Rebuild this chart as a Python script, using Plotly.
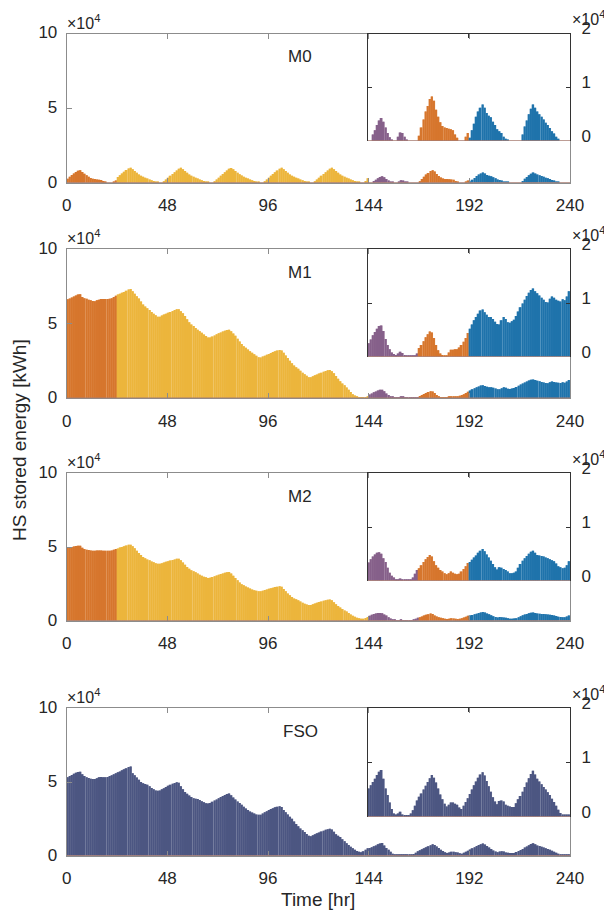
import plotly.graph_objects as go

# ---------------- data (values in units of 10^4 kWh) ----------------
hours = list(range(240))
x_tick_vals = [0, 48, 96, 144, 192, 240]
main_y_ticks = [0, 5, 10]
inset_y_ticks = [0, 1, 2]
panel_names = ["M0", "M1", "M2", "FSO"]

seg_start = [0, 24, 144, 168, 192]
seg_end = [24, 144, 168, 192, 240]
seg_colors = ["#D6762D", "#ECB53C", "#86608A", "#D6762D", "#1F73AB"]
seg_edge_colors = ["#E39A5E", "#F2C870", "#A98BA8", "#E39A5E", "#609DC8"]
fso_color = "#4C5682"
fso_edge_color = "#8087A8"

m0 = [0.27,0.4,0.52,0.62,0.72,0.8,0.83,0.72,0.6,0.5,0.4,0.32,0.27,0.24,0.22,0.2,0.18,0.12,0.05,0,0,0,0.03,0.15,
      0.38,0.5,0.62,0.74,0.85,0.96,1.0,0.9,0.78,0.66,0.55,0.47,0.4,0.34,0.28,0.22,0.17,0.12,0.07,0.03,0,0,0.1,0.22,
      0.34,0.46,0.58,0.7,0.82,0.94,1.0,0.9,0.78,0.66,0.55,0.47,0.4,0.34,0.28,0.22,0.17,0.12,0.07,0.03,0,0,0.1,0.22,
      0.34,0.46,0.58,0.7,0.82,0.94,0.99,0.9,0.78,0.66,0.56,0.48,0.4,0.34,0.28,0.22,0.17,0.12,0.07,0.03,0,0,0.1,0.22,
      0.34,0.46,0.58,0.7,0.82,0.94,1.0,0.9,0.78,0.66,0.55,0.47,0.4,0.34,0.28,0.22,0.17,0.12,0.07,0.03,0,0,0.1,0.22,
      0.34,0.46,0.58,0.7,0.82,0.94,1.0,0.9,0.78,0.66,0.55,0.47,0.4,0.34,0.28,0.22,0.17,0.12,0.07,0.03,0,0,0.12,0.3,
      0,0,0.12,0.2,0.3,0.38,0.43,0.36,0.25,0.15,0.07,0.02,0,0,0.08,0.16,0.15,0.08,0.03,0,0,0,0,0,
      0.1,0.25,0.4,0.55,0.65,0.78,0.83,0.75,0.58,0.45,0.35,0.28,0.25,0.24,0.23,0.22,0.2,0.12,0.06,0,0,0,0.08,0.15,
      0.06,0.2,0.32,0.45,0.55,0.62,0.68,0.62,0.52,0.47,0.44,0.36,0.3,0.22,0.18,0.15,0.08,0.04,0.02,0,0,0,0,0,
      0,0.12,0.27,0.38,0.5,0.6,0.68,0.62,0.55,0.5,0.45,0.4,0.34,0.3,0.24,0.18,0.14,0.08,0.04,0,0,0,0,0]

m1 = [6.64,6.7,6.77,6.84,6.9,6.96,6.98,6.8,6.72,6.68,6.62,6.58,6.53,6.52,6.58,6.62,6.66,6.67,6.67,6.67,6.68,6.72,6.8,6.88,
      6.96,7.02,7.08,7.14,7.22,7.3,7.33,7.18,7.02,6.85,6.7,6.5,6.3,6.16,6.05,5.92,5.8,5.68,5.58,5.48,5.48,5.55,5.62,5.68,
      5.74,5.8,5.86,5.92,5.97,5.98,5.85,5.7,5.52,5.3,5.1,4.95,4.85,4.72,4.6,4.5,4.4,4.28,4.18,4.08,4.08,4.15,4.22,4.3,
      4.36,4.42,4.48,4.53,4.58,4.6,4.5,4.35,4.2,4.0,3.82,3.65,3.5,3.4,3.28,3.15,3.05,2.95,2.85,2.76,2.74,2.8,2.86,2.92,
      2.98,3.04,3.1,3.15,3.2,3.24,3.2,3.05,2.88,2.7,2.52,2.35,2.2,2.08,1.98,1.85,1.72,1.62,1.52,1.42,1.42,1.48,1.54,1.6,
      1.66,1.72,1.78,1.83,1.88,1.9,1.82,1.68,1.5,1.32,1.15,1.0,0.88,0.72,0.58,0.42,0.28,0.18,0.1,0.05,0.05,0.05,0.06,0.1,
      0.25,0.32,0.4,0.46,0.52,0.57,0.58,0.48,0.33,0.22,0.14,0.08,0.05,0.03,0.06,0.09,0.07,0.03,0.01,0.01,0.01,0.01,0.02,0.06,
      0.16,0.22,0.29,0.36,0.42,0.47,0.45,0.35,0.22,0.12,0.06,0.03,0.01,0.01,0.08,0.13,0.13,0.14,0.14,0.17,0.22,0.28,0.35,0.44,
      0.52,0.6,0.68,0.74,0.8,0.86,0.88,0.83,0.78,0.74,0.74,0.7,0.65,0.61,0.6,0.68,0.74,0.7,0.64,0.63,0.66,0.69,0.76,0.84,
      0.92,0.99,1.06,1.13,1.19,1.24,1.27,1.22,1.18,1.14,1.1,1.06,1.02,1.01,1.08,1.12,1.1,1.06,1.04,1.03,1.07,1.05,1.12,1.22]

m2 = [4.95,4.97,5.0,5.03,5.06,5.09,5.08,4.95,4.86,4.82,4.79,4.77,4.75,4.75,4.76,4.76,4.76,4.75,4.75,4.74,4.75,4.77,4.82,4.86,
      4.9,4.96,5.0,5.05,5.1,5.15,5.16,5.05,4.92,4.75,4.6,4.45,4.32,4.24,4.16,4.1,4.02,3.96,3.9,3.86,3.86,3.9,3.95,4.0,
      4.04,4.08,4.12,4.16,4.2,4.21,4.1,3.95,3.8,3.65,3.52,3.42,3.36,3.28,3.2,3.12,3.05,2.98,2.94,2.9,2.92,2.97,3.02,3.07,
      3.12,3.16,3.2,3.25,3.28,3.3,3.2,3.05,2.9,2.75,2.6,2.48,2.4,2.32,2.25,2.18,2.12,2.07,2.03,2.0,2.0,2.04,2.08,2.12,
      2.16,2.2,2.24,2.28,2.31,2.34,2.3,2.15,2.0,1.85,1.72,1.6,1.5,1.45,1.38,1.3,1.22,1.15,1.1,1.07,1.07,1.12,1.17,1.22,
      1.27,1.31,1.35,1.39,1.42,1.43,1.38,1.25,1.12,1.0,0.9,0.8,0.7,0.62,0.52,0.42,0.34,0.26,0.2,0.16,0.14,0.14,0.18,0.25,
      0.34,0.4,0.45,0.49,0.52,0.53,0.5,0.42,0.35,0.24,0.15,0.09,0.06,0.02,0.02,0.04,0.02,0.01,0.01,0.01,0.02,0.06,0.13,0.2,
      0.23,0.29,0.35,0.4,0.44,0.48,0.45,0.36,0.29,0.24,0.2,0.17,0.14,0.12,0.14,0.17,0.15,0.13,0.12,0.13,0.17,0.22,0.27,0.33,
      0.35,0.39,0.43,0.47,0.52,0.56,0.59,0.55,0.49,0.43,0.37,0.31,0.25,0.21,0.25,0.24,0.22,0.2,0.17,0.14,0.14,0.15,0.17,0.24,
      0.31,0.37,0.42,0.46,0.5,0.54,0.56,0.52,0.48,0.47,0.46,0.45,0.43,0.42,0.4,0.38,0.36,0.32,0.27,0.25,0.23,0.24,0.29,0.36]

fso = [5.32,5.4,5.48,5.56,5.63,5.68,5.7,5.52,5.4,5.33,5.27,5.22,5.2,5.2,5.26,5.32,5.34,5.33,5.32,5.34,5.4,5.46,5.53,5.6,
       5.66,5.72,5.79,5.86,5.94,6.02,6.05,5.6,5.45,5.3,5.15,5.0,4.92,4.87,4.82,4.72,4.6,4.5,4.42,4.4,4.42,4.5,4.58,4.66,
       4.74,4.82,4.88,4.94,4.98,4.95,4.72,4.5,4.32,4.2,4.08,3.98,3.9,3.87,3.85,3.78,3.7,3.62,3.56,3.54,3.58,3.66,3.74,3.82,
       3.9,3.98,4.05,4.12,4.18,4.22,4.1,3.95,3.82,3.68,3.58,3.45,3.32,3.2,3.1,3.0,2.93,2.87,2.8,2.77,2.78,2.86,2.94,3.02,
       3.1,3.16,3.22,3.28,3.32,3.35,3.3,3.1,2.95,2.8,2.65,2.5,2.32,2.15,2.0,1.85,1.72,1.6,1.48,1.36,1.32,1.38,1.45,1.52,
       1.58,1.64,1.7,1.76,1.8,1.83,1.78,1.62,1.45,1.35,1.27,1.12,0.98,0.85,0.72,0.6,0.5,0.4,0.32,0.27,0.24,0.3,0.4,0.5,
       0.52,0.58,0.64,0.7,0.77,0.83,0.86,0.7,0.52,0.4,0.26,0.14,0.06,0.04,0.06,0.09,0.04,0.03,0.03,0.03,0.06,0.12,0.2,0.3,
       0.37,0.43,0.5,0.57,0.64,0.71,0.77,0.72,0.63,0.52,0.41,0.32,0.24,0.19,0.22,0.26,0.26,0.24,0.22,0.17,0.14,0.2,0.27,0.34,
       0.42,0.5,0.58,0.65,0.72,0.78,0.82,0.76,0.66,0.56,0.46,0.36,0.28,0.23,0.29,0.3,0.28,0.22,0.2,0.19,0.18,0.18,0.25,0.32,
       0.38,0.46,0.55,0.63,0.71,0.79,0.85,0.78,0.7,0.65,0.6,0.55,0.5,0.45,0.4,0.33,0.27,0.2,0.13,0.07,0.04,0.04,0.04,0.04]

series = [m0, m1, m2, fso]

# ---------------- layout geometry (target pixels in the 612x913 window) ----------------
W, H = 612, 913
OFF = 8  # the page body adds an 8 px margin around the figure
X_LEFT, X_INSET, X_RIGHT = 66.7, 367.7, 570.0
main_top = [33.5, 249.3, 473.3, 708.3]
main_bot = [182.7, 398.3, 620.7, 855.7]
inset_bot = [141.0, 356.7, 580.7, 816.7]

def px(x):
    return (x - OFF) / W

def py(y):
    return 1 - (y - OFF) / H

FONT = "Liberation Sans, Arial, Helvetica, sans-serif"
TXT = "#262626"
MAIN_LINE = "#8c8c8c"
INSET_LINE = "#333333"
BASE_COL = "#A77C72"
TICK_SIZE = 17
LABEL_SIZE = 19

fig = go.Figure()
layout = dict(
    template="none",
    width=W, height=H, margin=dict(l=0, r=0, t=0, b=0, autoexpand=False),
    paper_bgcolor="white", plot_bgcolor="rgba(0,0,0,0)",
    showlegend=False, barmode="overlay",
    font=dict(family=FONT, size=TICK_SIZE, color=TXT),
)
annotations = []
shapes = []


def add_bars(xs, ys, col, edge, xa, ya):
    # light full-width bar (edge tint) under a narrower face bar, like MATLAB's striped bars
    fig.add_trace(go.Bar(x=xs, y=ys, offset=0.0, width=1.0, marker=dict(color=edge, line=dict(width=0)),
                         xaxis=xa, yaxis=ya, hoverinfo="skip"))
    fig.add_trace(go.Bar(x=xs, y=ys, offset=0.1, width=0.8, marker=dict(color=col, line=dict(width=0)),
                         xaxis=xa, yaxis=ya, hoverinfo="skip"))


for k, vals in enumerate(series):
    mx, ix = 2 * k + 1, 2 * k + 2
    if panel_names[k] == "FSO":
        segs = [(0, 240, fso_color, fso_edge_color)]
    else:
        segs = list(zip(seg_start, seg_end, seg_colors, seg_edge_colors))
    for a, b, col, edge in segs:
        add_bars(hours[a:b], vals[a:b], col, edge, "x%d" % mx, "y%d" % mx)
        if b > 144:
            a2 = max(a, 144)
            add_bars(hours[a2:b], vals[a2:b], col, edge, "x%d" % ix, "y%d" % ix)

    mdom_y = [py(main_bot[k]), py(main_top[k])]
    idom_y = [py(inset_bot[k]), py(main_top[k])]
    layout["xaxis%d" % mx] = dict(
        domain=[px(X_LEFT), px(X_RIGHT)], range=[0, 240], anchor="y%d" % mx, automargin=False,
        tickvals=x_tick_vals, ticktext=[str(v) for v in x_tick_vals],
        ticks="inside", ticklen=5, tickcolor=MAIN_LINE,
        showline=True, linecolor=MAIN_LINE, linewidth=1, mirror="ticks",
        showgrid=False, zeroline=False, tickfont=dict(size=TICK_SIZE, color=TXT), ticklabelstandoff=7,
    )
    layout["yaxis%d" % mx] = dict(
        domain=mdom_y, range=[0, 10], anchor="x%d" % mx, automargin=False,
        tickvals=main_y_ticks, ticktext=[str(v) for v in main_y_ticks],
        ticks="inside", ticklen=5, tickcolor=MAIN_LINE,
        showline=True, linecolor=MAIN_LINE, linewidth=1, mirror=True,
        showgrid=False, zeroline=False, tickfont=dict(size=TICK_SIZE, color=TXT),
        ticklabelstandoff=5, ticklabelshift=-1,
    )
    layout["xaxis%d" % ix] = dict(
        domain=[px(X_INSET), px(X_RIGHT)], range=[144, 240], anchor="y%d" % ix, side="top",
        automargin=False, tickvals=[144, 192, 240], showticklabels=False,
        ticks="inside", ticklen=4, tickcolor=INSET_LINE,
        showline=True, linecolor=INSET_LINE, linewidth=1,
        showgrid=False, zeroline=False,
    )
    layout["yaxis%d" % ix] = dict(
        domain=idom_y, range=[0, 2], anchor="x%d" % ix, side="right", automargin=False,
        tickvals=inset_y_ticks, ticktext=[str(v) for v in inset_y_ticks],
        ticks="inside", ticklen=4, tickcolor=INSET_LINE,
        showline=True, linecolor=INSET_LINE, linewidth=1, mirror="ticks",
        showgrid=False, zeroline=False, tickfont=dict(size=TICK_SIZE, color=TXT),
        ticklabelstandoff=7, ticklabelshift=-5,
    )
    # baselines drawn by the zero-height bar edges
    shapes.append(dict(type="line", xref="x%d" % mx, yref="y%d" % mx, x0=0, x1=240, y0=0, y1=0,
                       line=dict(color=BASE_COL, width=1.5), layer="above"))
    shapes.append(dict(type="line", xref="x%d" % ix, yref="y%d" % ix, x0=144, x1=240, y0=0, y1=0,
                       line=dict(color=BASE_COL, width=1.5), layer="above"))
    # panel title
    annotations.append(dict(text=panel_names[k], x=px(300), y=py(main_top[k] + 23), xref="paper", yref="paper",
                            showarrow=False, font=dict(size=17, color=TXT), xanchor="center", yanchor="middle"))
    # exponent labels
    annotations.append(dict(text="\u00d710<sup>4</sup>", x=px(66), y=py(main_top[k] - 1), xref="paper", yref="paper",
                            showarrow=False, font=dict(size=16, color=TXT), xanchor="left", yanchor="bottom",
                            borderpad=0))
    annotations.append(dict(text="\u00d710<sup>4</sup>", x=px(571), y=py(main_top[k] - 4), xref="paper", yref="paper",
                            showarrow=False, font=dict(size=16, color=TXT), xanchor="left", yanchor="bottom",
                            borderpad=0))

annotations.append(dict(text="HS stored energy [kWh]", x=px(20), y=py(440), xref="paper", yref="paper",
                        showarrow=False, textangle=-90, font=dict(size=LABEL_SIZE, color=TXT),
                        xanchor="center", yanchor="middle"))
annotations.append(dict(text="Time [hr]", x=px(318), y=py(899), xref="paper", yref="paper",
                        showarrow=False, font=dict(size=LABEL_SIZE, color=TXT), xanchor="center", yanchor="middle"))

layout["annotations"] = annotations
layout["shapes"] = shapes
fig.update_layout(**layout)
fig.write_html("out.html")
